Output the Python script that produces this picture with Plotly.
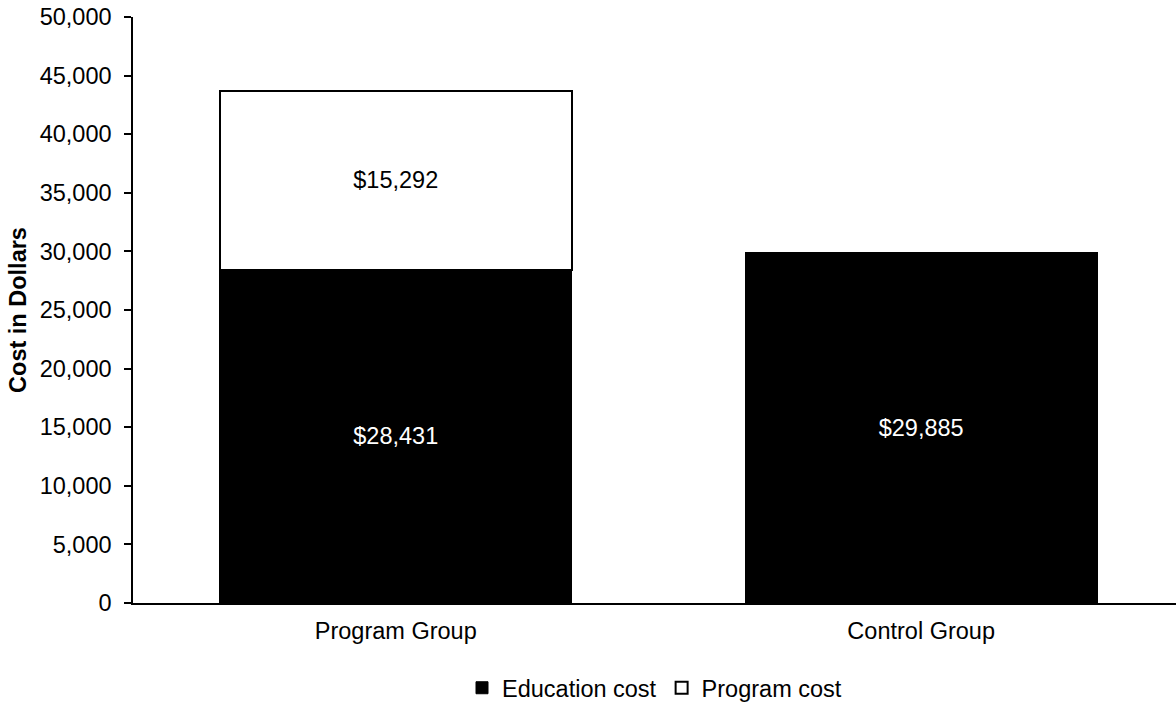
import plotly.graph_objects as go

groups = ["Program Group", "Control Group"]
education_cost = [28431, 29885]
program_cost = [15292, 0]
y_ticks = [0, 5000, 10000, 15000, 20000, 25000, 30000, 35000, 40000, 45000, 50000]

FONT = "Liberation Sans, Arial, sans-serif"
SIZE = 23.5


def labels(values):
    return [f"${v:,}" if v else "" for v in values]


fig = go.Figure()
fig.add_trace(go.Bar(
    x=groups, y=education_cost, name="Education cost",
    marker=dict(color="black", line=dict(color="black", width=1)),
    text=labels(education_cost), textposition="inside",
    insidetextanchor="middle",
    textfont=dict(color="white", size=SIZE, family=FONT),
))
fig.add_trace(go.Bar(
    x=groups, y=program_cost, name="Program cost",
    marker=dict(color="white", line=dict(color="black", width=2)),
    text=labels(program_cost), textposition="inside",
    insidetextanchor="middle",
    textfont=dict(color="black", size=SIZE, family=FONT),
))

fig.update_layout(
    barmode="stack",
    bargap=0.33,
    width=1176, height=702,
    margin=dict(l=133, r=0, t=17, b=99, autoexpand=False),
    paper_bgcolor="white", plot_bgcolor="white",
    font=dict(family=FONT, size=SIZE, color="black"),
    showlegend=True,
    legend=dict(orientation="h", x=0.5, xanchor="center", y=-0.145, yanchor="middle",
                font=dict(size=SIZE), itemwidth=30, traceorder="normal"),
    uniformtext=dict(mode=False),
)
fig.update_xaxes(
    range=[-0.5, 1.485],
    showline=True, linecolor="black", linewidth=2,
    ticks="", showgrid=False, tickfont=dict(size=SIZE), ticklabelstandoff=6,
)
fig.update_yaxes(
    range=[0, 50000], tickvals=y_ticks, tickformat=",d",
    showline=True, linecolor="black", linewidth=1.5,
    ticks="outside", ticklen=7, tickcolor="black", tickwidth=1.5,
    showgrid=False, zeroline=False, tickfont=dict(size=SIZE), ticklabelstandoff=8,
    title=dict(text="<b>Cost in Dollars</b>", font=dict(size=SIZE), standoff=6),
)

fig.write_html("out.html")
